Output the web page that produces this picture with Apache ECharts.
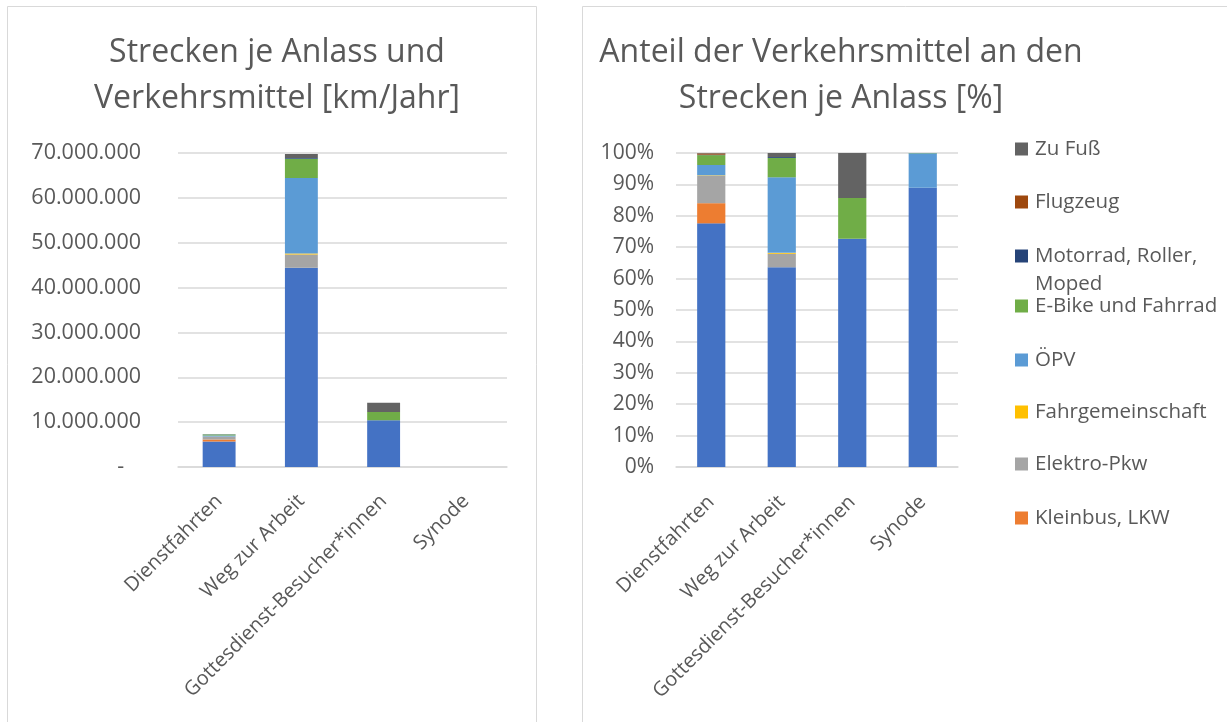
<!DOCTYPE html>
<html><head><meta charset="utf-8">
<script src="https://cdn.jsdelivr.net/npm/echarts@6/dist/echarts.min.js"></script>
<style>html,body{margin:0;padding:0;background:#fff}#c{width:1227px;height:722px}</style>
</head><body><div id="c"></div>
<script>
const categories = ['Dienstfahrten', 'Weg zur Arbeit', 'Gottesdienst-Besucher*innen', 'Synode'];
const pkw       = [5680000, 44400000, 10400000, 17800];
const kleinbus  = [470000, 0, 0, 0];
const elektro   = [640000, 3000000, 0, 0];
const fahrg     = [10000, 200000, 0, 0];
const oepv      = [240000, 16800000, 0, 2200];
const ebike     = [230000, 4300000, 1850000, 20];
const motorrad  = [10000, 200000, 0, 0];
const flugzeug  = [30000, 0, 0, 0];
const zufuss    = [10000, 900000, 2050000, 0];
const leftTicks = [0, 10000000, 20000000, 30000000, 40000000, 50000000, 60000000, 70000000];

const seriesDefs = [
  {name: 'Pkw', data: pkw, color: '#4472C4'},
  {name: 'Kleinbus, LKW', data: kleinbus, color: '#ED7D31'},
  {name: 'Elektro-Pkw', data: elektro, color: '#A5A5A5'},
  {name: 'Fahrgemeinschaft', data: fahrg, color: '#FFC000'},
  {name: 'ÖPV', data: oepv, color: '#5B9BD5'},
  {name: 'E-Bike und Fahrrad', data: ebike, color: '#70AD47'},
  {name: 'Motorrad, Roller, Moped', data: motorrad, color: '#264478'},
  {name: 'Flugzeug', data: flugzeug, color: '#9E480E'},
  {name: 'Zu Fuß', data: zufuss, color: '#636363'}
];
const totals = categories.map((_, i) => seriesDefs.reduce((s, d) => s + d.data[i], 0));

const FONT = 'Open Sans';
const TXT = '#595959';
const fmtDE = v => v === 0 ? '-   ' : String(Math.round(v)).replace(/\B(?=(\d{3})+(?!\d))/g, '.');

const series = [];
seriesDefs.forEach(d => {
  series.push({name: d.name, type: 'bar', stack: 'a', xAxisIndex: 0, yAxisIndex: 0,
    barWidth: '40%', data: d.data, itemStyle: {color: d.color}, silent: true});
});
seriesDefs.forEach(d => {
  series.push({name: d.name, type: 'bar', stack: 'b', xAxisIndex: 1, yAxisIndex: 1,
    barWidth: '40%', data: d.data.map((v, i) => v / totals[i] * 100), itemStyle: {color: d.color}, silent: true});
});

const legendOrder = ['Zu Fuß', 'Flugzeug', 'Motorrad, Roller, Moped', 'E-Bike und Fahrrad', 'ÖPV', 'Fahrgemeinschaft', 'Elektro-Pkw', 'Kleinbus, LKW'];
const legendCenters = [144, 197, 251, 301, 355, 407, 459, 513];
const legends = legendOrder.map((n, k) => {
  const multi = n.startsWith('Motorrad');
  return {
    data: [n], left: 1010, top: legendCenters[k] - (multi ? 42 : 14), orient: 'vertical',
    itemWidth: 13, itemHeight: 13, itemGap: 0, selectedMode: false, icon: 'rect',
    formatter: multi ? '\nMotorrad, Roller,\nMoped' : '{name}',
    textStyle: {color: TXT, fontFamily: FONT, fontSize: 20.5, lineHeight: 28, padding: [0, 0, 0, 2]}
  };
});

const axisCommon = {
  axisLine: {show: false}, axisTick: {show: false},
  splitLine: {lineStyle: {color: '#d9d9d9', width: 1.5}}
};

const option = {
  animation: false,
  backgroundColor: '#fff',
  graphic: [
    {type: 'rect', shape: {x: 7.5, y: 6.5, width: 529, height: 730}, style: {fill: 'none', stroke: '#d9d9d9', lineWidth: 1}},
    {type: 'rect', shape: {x: 582.5, y: 6.5, width: 660, height: 730}, style: {fill: 'none', stroke: '#d9d9d9', lineWidth: 1}}
  ],
  title: [
    {text: 'Strecken je Anlass und\nVerkehrsmittel [km/Jahr]', left: 272, top: 25, textAlign: 'center',
     textStyle: {color: TXT, fontFamily: FONT, fontSize: 32, fontWeight: 'normal', lineHeight: 46}},
    {text: 'Anteil der Verkehrsmittel an den\nStrecken je Anlass [%]', left: 836, top: 25, textAlign: 'center',
     textStyle: {color: TXT, fontFamily: FONT, fontSize: 32, fontWeight: 'normal', lineHeight: 46, align: 'center'}}
  ],
  legend: legends,
  grid: [
    {left: 178, right: 720, top: 153, bottom: 255},
    {left: 676, right: 269, top: 153, bottom: 255}
  ],
  xAxis: [
    {type: 'category', gridIndex: 0, data: categories,
     axisLine: {show: true, lineStyle: {color: '#d9d9d9', width: 1.5}}, axisTick: {show: false},
     axisLabel: {rotate: 45, color: TXT, fontFamily: FONT, fontSize: 20, margin: 31, interval: 0}},
    {type: 'category', gridIndex: 1, data: categories,
     axisLine: {show: true, lineStyle: {color: '#d9d9d9', width: 1.5}}, axisTick: {show: false},
     axisLabel: {rotate: 45, color: TXT, fontFamily: FONT, fontSize: 20, margin: 32, interval: 0}}
  ],
  yAxis: [
    Object.assign({type: 'value', gridIndex: 0, min: leftTicks[0], max: leftTicks[leftTicks.length - 1], interval: leftTicks[1] - leftTicks[0],
      axisLabel: {color: TXT, fontFamily: FONT, fontSize: 21.5, margin: 37, formatter: fmtDE}}, axisCommon),
    Object.assign({type: 'value', gridIndex: 1, min: 0, max: 100, interval: 10,
      axisLabel: {color: TXT, fontFamily: FONT, fontSize: 21, margin: 22, formatter: '{value}%'}}, axisCommon)
  ],
  series: series
};

const chart = echarts.init(document.getElementById('c'), null, {renderer: 'canvas'});
chart.setOption(option);
</script>
</body></html>
